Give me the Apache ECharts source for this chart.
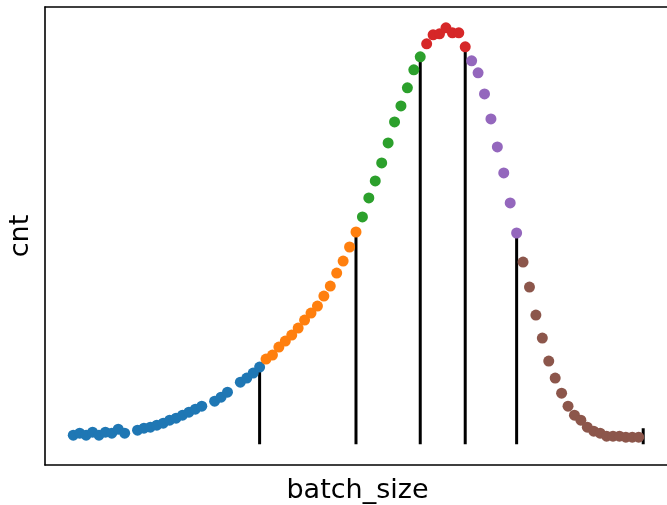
<!DOCTYPE html>
<html>
<head>
<meta charset="utf-8">
<script src="https://cdn.jsdelivr.net/npm/echarts@6/dist/echarts.min.js"></script>
<style>
html,body{margin:0;padding:0;background:#fff;overflow:hidden;}
#chart{width:667px;height:505px;}
</style>
</head>
<body>
<div id="chart"></div>
<script>
// batch_size index and cnt per group
const blueX   = [0,1,2,3,4,5,6,7,8,10,11,12,13,14,15,16,17,18,19,20,22,23,24,26,27,28,29];
const blueY   = [9,11,9,12,9,12,11,15,11,14,16,17,19,21,24,26,29,32,35,38,43,47,52,62,66,71,77];
const orangeX = [30,31,32,33,34,35,36,37,38,39,40,41,42,43,44];
const orangeY = [85,89,97,103,109,116,124,131,138,148,158,171,183,197,212];
const greenX  = [45,46,47,48,49,50,51,52,53,54];
const greenY  = [227,246,263,281,301,322,338,356,374,387];
const redX    = [55,56,57,58,59,60,61];
const redY    = [400,409,410,416,411,411,397];
const purpleX = [62,63,64,65,66,67,68,69];
const purpleY = [383,371,350,325,297,271,241,211];
const brownX  = [70,71,72,73,74,75,76,77,78,79,80,81,82,83,84,85,86,87,88];
const brownY  = [182,157,129,106,83,66,51,38,29,24,17,13,11,8,8,8,7,7,7];
// group boundary lines
const boundX  = [29,44,54,61,69,88.7];
const boundTop= [77,212,387,397,211,16];

const groups = [
  [blueX, blueY, '#1f77b4'],
  [orangeX, orangeY, '#ff7f0e'],
  [greenX, greenY, '#2ca02c'],
  [redX, redY, '#d62728'],
  [purpleX, purpleY, '#9467bd'],
  [brownX, brownY, '#8c564b']
];

const series = [];
boundX.forEach((x, i) => {
  series.push({
    type: 'line', data: [[x, 0], [x, boundTop[i]]],
    symbol: 'none', lineStyle: {color: '#000', width: 3}, z: 1, silent: true, animation: false
  });
});
groups.forEach(g => {
  series.push({
    type: 'scatter',
    data: g[0].map((x, i) => [x, g[1][i]]),
    symbolSize: 11,
    itemStyle: {color: g[2], opacity: 1},
    z: 2, animation: false
  });
});

const hidden = {axisTick: {show: false}, axisLabel: {show: false}, splitLine: {show: false}};
const spine = {show: true, onZero: false, lineStyle: {color: '#000', width: 1.6}};

const chart = echarts.init(document.getElementById('chart'), null, {renderer: 'canvas'});
chart.setOption({
  animation: false,
  grid: {left: 45, top: 7, width: 625, height: 458, containLabel: false, outerBoundsMode: 'none'},
  xAxis: [{
    type: 'value', min: -4.4, max: 92.87, position: 'bottom',
    name: 'batch_size', nameLocation: 'middle', nameGap: 12,
    nameTextStyle: {fontFamily: 'DejaVu Sans', fontSize: 27, color: '#000', verticalAlign: 'top'},
    axisLine: spine, ...hidden
  }, {
    type: 'value', min: -4.4, max: 92.87, position: 'top',
    axisLine: spine, ...hidden
  }],
  yAxis: {
    type: 'value', min: -20.8, max: 436.8,
    name: 'cnt', nameLocation: 'middle', nameGap: 11,
    nameTextStyle: {fontFamily: 'DejaVu Sans', fontSize: 27, color: '#000'},
    axisLine: spine, ...hidden
  },
  series: series
});
</script>
</body>
</html>
